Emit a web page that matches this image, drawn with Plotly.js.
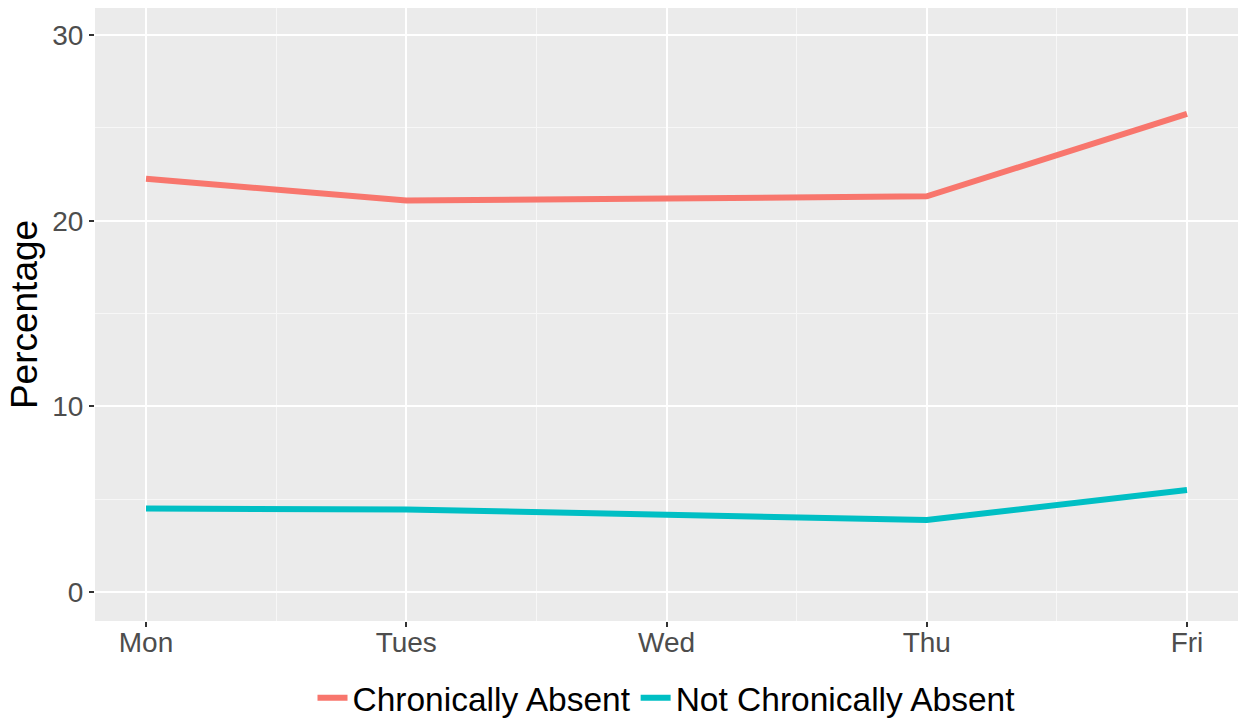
<!DOCTYPE html>
<html>
<head>
<meta charset="utf-8">
<script src="https://cdn.plot.ly/plotly-3.0.1.min.js"></script>
<style>html,body{margin:0;padding:0;background:#fff;}#chart{width:1238px;height:722px;}</style>
</head>
<body>
<div id="chart"></div>
<script>
const days = ["Mon", "Tues", "Wed", "Thu", "Fri"];
const chronicallyAbsent = [22.26, 21.09, 21.2, 21.31, 25.75];
const notChronicallyAbsent = [4.5, 4.45, 4.17, 3.89, 5.5];
const yTicks = [0, 10, 20, 30];

const xIdx = days.map((d, i) => i);
const font = "Liberation Sans, Arial, Helvetica, sans-serif";

const traces = [
  {x: xIdx, y: chronicallyAbsent, name: "Chronically Absent", type: "scatter", mode: "lines",
   line: {color: "#F8766D", width: 6}},
  {x: xIdx, y: notChronicallyAbsent, name: "Not Chronically Absent", type: "scatter", mode: "lines",
   line: {color: "#00BFC4", width: 6}}
];

const layout = {
  width: 1238, height: 722,
  margin: {l: 95, r: 0, t: 8, b: 101, autoexpand: false},
  paper_bgcolor: "#FFFFFF",
  plot_bgcolor: "#EBEBEB",
  font: {family: font},
  showlegend: true,
  legend: {orientation: "h", x: 0.5, xanchor: "center", y: -0.079, yanchor: "top",
           font: {size: 33.5, color: "#000000", family: font}, itemwidth: 30, tracegroupgap: 0},
  xaxis: {
    range: [-0.196, 4.196], tickmode: "array", tickvals: xIdx, ticktext: days,
    showgrid: true, gridcolor: "#FFFFFF", gridwidth: 2, zeroline: false, showline: false,
    ticks: "outside", ticklen: 5, tickwidth: 2, tickcolor: "#333333",
    ticklabelstandoff: -9,
    tickfont: {size: 28, color: "#4D4D4D", family: font},
    minor: {tickmode: "array", tickvals: [0.5, 1.5, 2.5, 3.5], showgrid: true, gridcolor: "#F7F7F7", gridwidth: 1, ticks: ""}
  },
  yaxis: {
    range: [-1.55, 31.45], tickmode: "array", tickvals: yTicks, ticktext: yTicks.map(String),
    showgrid: true, gridcolor: "#FFFFFF", gridwidth: 2, zeroline: false, showline: false,
    ticks: "outside", ticklen: 5, tickwidth: 2, tickcolor: "#333333",
    tickfont: {size: 28, color: "#4D4D4D", family: font},
    title: {text: "Percentage", font: {size: 37, color: "#000000", family: font}, standoff: 3},
    minor: {tickmode: "array", tickvals: [5, 15, 25], showgrid: true, gridcolor: "#F7F7F7", gridwidth: 1, ticks: ""}
  }
};

Plotly.newPlot("chart", traces, layout, {displayModeBar: false, staticPlot: true});
</script>
</body>
</html>
